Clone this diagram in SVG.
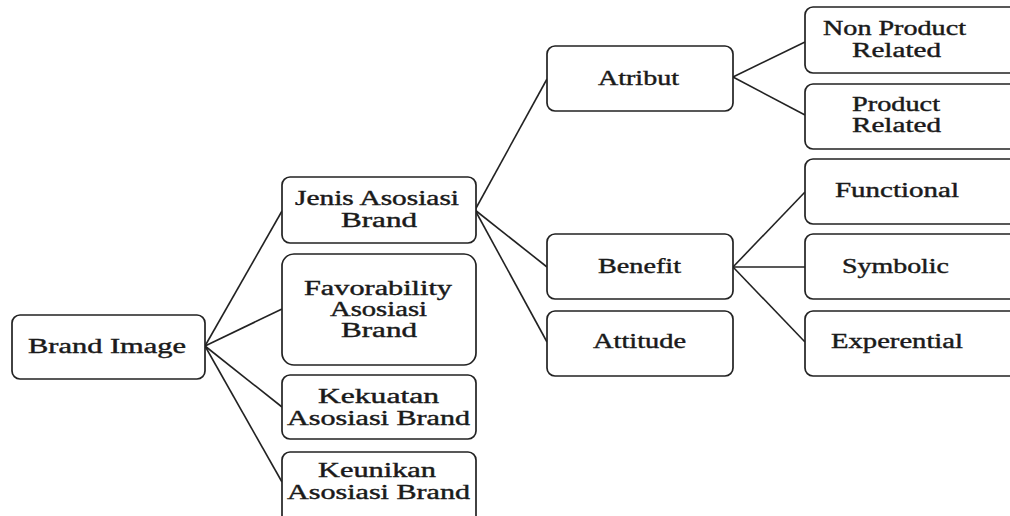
<svg xmlns="http://www.w3.org/2000/svg" width="1010" height="516" viewBox="0 0 1010 516">
<style>
.box{fill:#fff;stroke:#222;stroke-width:1.7}
.t{font-family:"Liberation Serif","Times New Roman",serif;font-size:20px;fill:#1a1a1a;stroke:#1a1a1a;stroke-width:0.4;text-anchor:start}
.c{stroke:#222;stroke-width:1.6;fill:none}
</style>
<rect width="1010" height="516" fill="#fff"/>
<g id="connectors">
<line class="c" x1="205" y1="346" x2="282" y2="211"/>
<line class="c" x1="205" y1="346" x2="282" y2="309"/>
<line class="c" x1="205" y1="346" x2="282" y2="407"/>
<line class="c" x1="205" y1="346" x2="282" y2="482"/>
<line class="c" x1="475" y1="210" x2="547" y2="79"/>
<line class="c" x1="475" y1="210" x2="547" y2="267"/>
<line class="c" x1="475" y1="210" x2="547" y2="342"/>
<line class="c" x1="733" y1="77" x2="805" y2="42"/>
<line class="c" x1="733" y1="77" x2="805" y2="115"/>
<line class="c" x1="733" y1="267" x2="805" y2="192"/>
<line class="c" x1="733" y1="267" x2="805" y2="267"/>
<line class="c" x1="733" y1="267" x2="805" y2="342"/>
</g>
<g id="brand-image"><rect class="box" x="12" y="315" width="193" height="64" rx="8"/><text class="t" x="28" y="353" textLength="158" lengthAdjust="spacingAndGlyphs">Brand Image</text></g>
<g id="jenis"><rect class="box" x="282" y="177" width="194" height="66" rx="8"/><text class="t" x="295" y="205" textLength="164" lengthAdjust="spacingAndGlyphs">Jenis Asosiasi</text><text class="t" x="341" y="227" textLength="76" lengthAdjust="spacingAndGlyphs">Brand</text></g>
<g id="favorability"><rect class="box" x="282" y="254" width="194" height="111" rx="12"/><text class="t" x="304" y="295" textLength="148" lengthAdjust="spacingAndGlyphs">Favorability</text><text class="t" x="330" y="316" textLength="97" lengthAdjust="spacingAndGlyphs">Asosiasi</text><text class="t" x="341" y="337" textLength="76" lengthAdjust="spacingAndGlyphs">Brand</text></g>
<g id="kekuatan"><rect class="box" x="282" y="375" width="194" height="64" rx="8"/><text class="t" x="318" y="403" textLength="121" lengthAdjust="spacingAndGlyphs">Kekuatan</text><text class="t" x="287" y="425" textLength="183" lengthAdjust="spacingAndGlyphs">Asosiasi Brand</text></g>
<g id="keunikan"><rect class="box" x="282" y="452" width="194" height="72" rx="8"/><text class="t" x="318" y="477" textLength="118" lengthAdjust="spacingAndGlyphs">Keunikan</text><text class="t" x="287" y="499" textLength="183" lengthAdjust="spacingAndGlyphs">Asosiasi Brand</text></g>
<g id="atribut"><rect class="box" x="547" y="46" width="186" height="65" rx="8"/><text class="t" x="598" y="85" textLength="81" lengthAdjust="spacingAndGlyphs">Atribut</text></g>
<g id="benefit"><rect class="box" x="547" y="234" width="186" height="65" rx="8"/><text class="t" x="598" y="273" textLength="83" lengthAdjust="spacingAndGlyphs">Benefit</text></g>
<g id="attitude"><rect class="box" x="547" y="311" width="186" height="65" rx="8"/><text class="t" x="593" y="348" textLength="93" lengthAdjust="spacingAndGlyphs">Attitude</text></g>
<g id="non-product"><rect class="box" x="805" y="7" width="215" height="66" rx="8"/><text class="t" x="823" y="35" textLength="143" lengthAdjust="spacingAndGlyphs">Non Product</text><text class="t" x="852" y="57" textLength="89" lengthAdjust="spacingAndGlyphs">Related</text></g>
<g id="product"><rect class="box" x="805" y="84" width="215" height="65" rx="8"/><text class="t" x="852" y="111" textLength="88" lengthAdjust="spacingAndGlyphs">Product</text><text class="t" x="852" y="132" textLength="89" lengthAdjust="spacingAndGlyphs">Related</text></g>
<g id="functional"><rect class="box" x="805" y="159" width="215" height="65" rx="8"/><text class="t" x="835" y="197" textLength="124" lengthAdjust="spacingAndGlyphs">Functional</text></g>
<g id="symbolic"><rect class="box" x="805" y="234" width="215" height="65" rx="8"/><text class="t" x="842" y="273" textLength="107" lengthAdjust="spacingAndGlyphs">Symbolic</text></g>
<g id="experential"><rect class="box" x="805" y="311" width="215" height="65" rx="8"/><text class="t" x="831" y="348" textLength="132" lengthAdjust="spacingAndGlyphs">Experential</text></g>
</svg>
